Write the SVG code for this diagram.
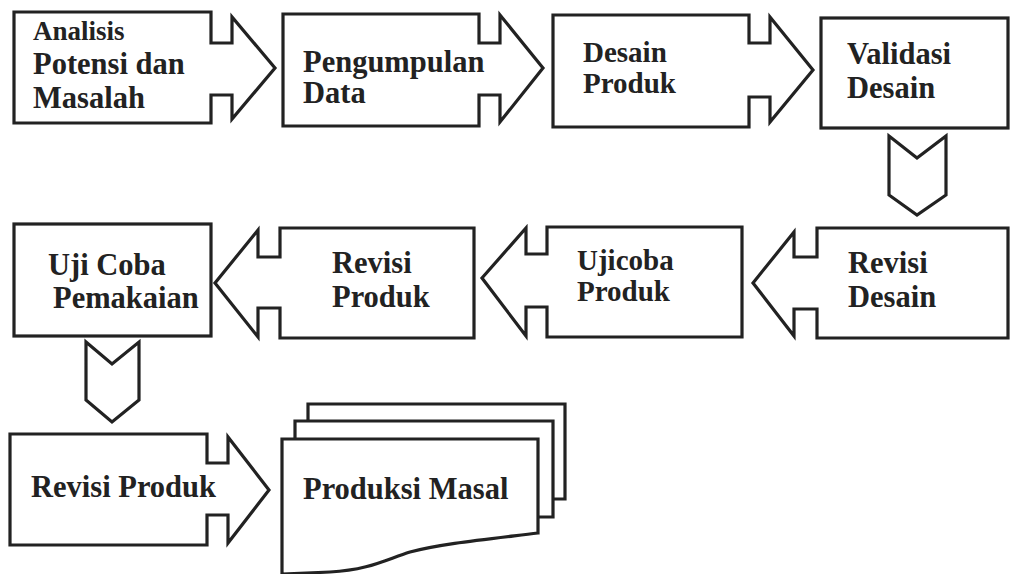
<svg xmlns="http://www.w3.org/2000/svg" width="1011" height="574" viewBox="0 0 1011 574">
<style>
.s{fill:#fff;stroke:#222;stroke-width:3.2;stroke-linejoin:miter}
.t{font-family:"Liberation Serif","Times New Roman",serif;font-weight:bold;font-size:30.5px;fill:#222}
.a{font-size:27px}
.c{font-size:29px}
</style>
<rect width="1011" height="574" fill="#fff"/>
<g id="n1">
<path class="s" d="M14,12 H211 V43 H232 V17 L275,68 L232,119 V95 H211 V123 H14 Z"/>
<text class="t a" x="33" y="40">Analisis</text>
<text class="t" x="33" y="74">Potensi dan</text>
<text class="t" x="33" y="108">Masalah</text>
</g>
<g id="n2">
<path class="s" d="M283,14 H479 V43 H500 V15 L543,68 L500,122 V95 H479 V126 H283 Z"/>
<text class="t" x="303" y="72">Pengumpulan</text>
<text class="t" x="303" y="103">Data</text>
</g>
<g id="n3">
<path class="s" d="M553,15 H749 V43 H770 V17 L813,70 L770,122 V97 H749 V127 H553 Z"/>
<text class="t c" x="583" y="62">Desain</text>
<text class="t c" x="583" y="93">Produk</text>
</g>
<g id="n4">
<rect class="s" x="821" y="18" width="187" height="110"/>
<text class="t" x="847" y="64">Validasi</text>
<text class="t" x="847" y="98">Desain</text>
</g>
<g id="n5">
<path class="s" d="M1008,228 H817 V257 H794 V232 L753,283 L794,336 V309 H817 V338 H1008 Z"/>
<text class="t" x="848" y="273">Revisi</text>
<text class="t" x="848" y="307">Desain</text>
</g>
<g id="n6">
<path class="s" d="M742,227 H547 V254 H526 V228 L482,278 L526,336 V307 H547 V337 H742 Z"/>
<text class="t c" x="577" y="270">Ujicoba</text>
<text class="t c" x="577" y="301">Produk</text>
</g>
<g id="n7">
<path class="s" d="M474,228 H280 V257 H258 V230 L215,283 L258,337 V308 H280 V338 H474 Z"/>
<text class="t" x="332" y="273">Revisi</text>
<text class="t" x="332" y="307">Produk</text>
</g>
<g id="n8">
<rect class="s" x="14" y="224" width="197" height="112"/>
<text class="t" x="48" y="275">Uji Coba</text>
<text class="t" x="53" y="308">Pemakaian</text>
</g>
<g id="n9">
<path class="s" d="M10,434 H207 V463 H228 V437 L269,490 L228,543 V515 H207 V545 H10 Z"/>
<text class="t" x="31" y="497">Revisi Produk</text>
</g>
<g id="n10">
<path class="s" d="M308,404 H565 V499 H308 Z"/>
<path class="s" d="M295,421 H553 V517 H295 Z"/>
<path class="s" d="M282,439 H538 V533 C480,540 440,544 410,552 C385,560 368,570 330,572 L282,574 Z"/>
<text class="t" x="303" y="499">Produksi Masal</text>
</g>
<g id="connectors">
<path class="s" d="M889,136 L917,158 L946,136 V195 L917,215 L889,195 Z"/>
<path class="s" d="M86,342 L112,364 L139,342 V400 L112,422 L86,400 Z"/>
</g>
</svg>
